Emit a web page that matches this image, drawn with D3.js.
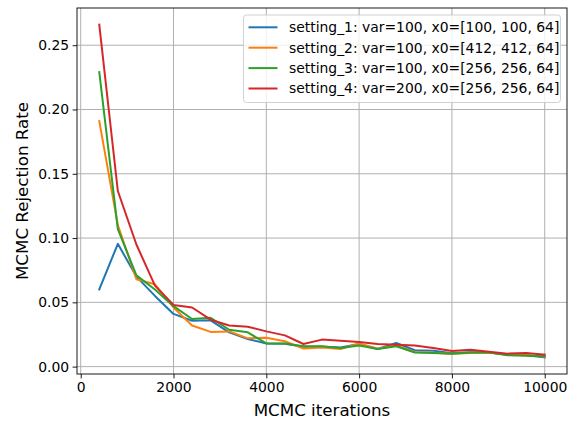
<!DOCTYPE html>
<html lang="en">
  <head>
    <meta charset="UTF-8" />
    <title>MCMC rejection rate</title>
    <script src="https://cdn.jsdelivr.net/npm/d3@7"></script>
    <style>
      body {
        padding: 0;
        margin: 0;
        background: #fff;
      }
      svg text {
        font-family: "DejaVu Sans", sans-serif;
        fill: #000;
      }
    </style>
  </head>
  <body>
    <div id="chart"></div>

    <script>
      // data
      const iterations = [
        400, 800, 1200, 1600, 2000, 2400, 2800, 3200, 3600, 4000, 4400, 4800,
        5200, 5600, 6000, 6400, 6800, 7200, 7600, 8000, 8400, 8800, 9200, 9600,
        10000,
      ];
      const setting1 = [
        0.06, 0.0955, 0.07, 0.055, 0.041, 0.0357, 0.036, 0.0267, 0.0215, 0.018,
        0.0178, 0.0155, 0.0155, 0.0148, 0.0176, 0.0137, 0.0184, 0.0127, 0.0124,
        0.0105, 0.0112, 0.0109, 0.0095, 0.0088, 0.0072,
      ];
      const setting2 = [
        0.191, 0.11, 0.068, 0.064, 0.046, 0.032, 0.027, 0.0274, 0.022, 0.0225,
        0.0197, 0.014, 0.0148, 0.0137, 0.018, 0.014, 0.0165, 0.0114, 0.0108,
        0.0101, 0.0105, 0.0109, 0.0092, 0.009, 0.0078,
      ];
      const setting3 = [
        0.229, 0.107, 0.071, 0.06, 0.047, 0.037, 0.038, 0.0287, 0.0267, 0.018,
        0.018, 0.0158, 0.0158, 0.0145, 0.0165, 0.0137, 0.0158, 0.011, 0.0106,
        0.0101, 0.011, 0.0109, 0.0088, 0.0085, 0.008,
      ];
      const setting4 = [
        0.266, 0.1366, 0.095, 0.063, 0.048, 0.046, 0.0365, 0.032, 0.031,
        0.0274, 0.0243, 0.0176, 0.021, 0.0202, 0.0192, 0.0176, 0.017, 0.0165,
        0.0145, 0.0122, 0.0132, 0.0116, 0.0101, 0.0106, 0.0093,
      ];
      const seriesNames = [
        "setting_1: var=100, x0=[100, 100, 64]",
        "setting_2: var=100, x0=[412, 412, 64]",
        "setting_3: var=100, x0=[256, 256, 64]",
        "setting_4: var=200, x0=[256, 256, 64]",
      ];
      const seriesValues = [setting1, setting2, setting3, setting4];
      const colors = ["#1f77b4", "#ff7f0e", "#2ca02c", "#d62728"];
      const xTicks = [0, 2000, 4000, 6000, 8000, 10000];
      const yTicks = [0, 0.05, 0.1, 0.15, 0.2, 0.25];

      const width = 573;
      const height = 421;
      const margin = { top: 8, right: 6, bottom: 47, left: 77 };

      const svg = d3
        .select("#chart")
        .append("svg")
        .attr("width", width)
        .attr("height", height);

      // matplotlib-like 5% padding around the data
      const xMin = d3.min(iterations),
        xMax = d3.max(iterations);
      const allVals = seriesValues.flat();
      const yMin = d3.min(allVals),
        yMax = d3.max(allVals);
      const xPad = (xMax - xMin) * 0.05,
        yPad = (yMax - yMin) * 0.05;

      const x = d3
        .scaleLinear()
        .domain([xMin - xPad, xMax + xPad])
        .range([margin.left, width - margin.right]);
      const y = d3
        .scaleLinear()
        .domain([yMin - yPad, yMax + yPad])
        .range([height - margin.bottom, margin.top]);

      // grid
      const grid = svg.append("g").attr("stroke", "#b0b0b0").attr("stroke-width", 1);
      xTicks.forEach((t) => {
        grid
          .append("line")
          .attr("x1", x(t))
          .attr("x2", x(t))
          .attr("y1", margin.top)
          .attr("y2", height - margin.bottom);
      });
      yTicks.forEach((t) => {
        grid
          .append("line")
          .attr("x1", margin.left)
          .attr("x2", width - margin.right)
          .attr("y1", y(t))
          .attr("y2", y(t));
      });

      // lines
      const line = d3
        .line()
        .x((d, i) => x(iterations[i]))
        .y((d) => y(d));

      seriesValues.forEach((vals, i) => {
        svg
          .append("path")
          .datum(vals)
          .attr("fill", "none")
          .attr("stroke", colors[i])
          .attr("stroke-width", 2)
          .attr("stroke-linejoin", "round")
          .attr("stroke-linecap", "square")
          .attr("d", line);
      });

      // axes
      const xAxis = svg
        .append("g")
        .attr("transform", `translate(0,${height - margin.bottom})`)
        .call(d3.axisBottom(x).tickValues(xTicks).tickSize(4.4).tickPadding(3.5).tickFormat(d3.format("d")));
      const yAxis = svg
        .append("g")
        .attr("transform", `translate(${margin.left},0)`)
        .call(d3.axisLeft(y).tickValues(yTicks).tickSize(4.4).tickPadding(3.5).tickFormat(d3.format(".2f")));

      [xAxis, yAxis].forEach((ax) => {
        ax.select(".domain").remove();
        ax.selectAll(".tick line").attr("stroke", "#000").attr("stroke-width", 0.9);
        ax.selectAll(".tick text").attr("font-size", 13.9).attr("font-family", "DejaVu Sans");
      });

      // frame
      svg
        .append("rect")
        .attr("x", margin.left)
        .attr("y", margin.top)
        .attr("width", width - margin.left - margin.right)
        .attr("height", height - margin.top - margin.bottom)
        .attr("fill", "none")
        .attr("stroke", "#000")
        .attr("stroke-width", 0.9);

      // axis labels
      svg
        .append("text")
        .attr("x", (margin.left + width - margin.right) / 2)
        .attr("y", 416)
        .attr("text-anchor", "middle")
        .attr("font-size", 16.7)
        .text("MCMC iterations");
      svg
        .append("text")
        .attr("transform", `translate(28,${(margin.top + height - margin.bottom) / 2}) rotate(-90)`)
        .attr("text-anchor", "middle")
        .attr("font-size", 16.7)
        .text("MCMC Rejection Rate");

      // legend
      const legend = svg.append("g").attr("transform", "translate(243.5,15)");
      legend
        .append("rect")
        .attr("width", 317)
        .attr("height", 87.5)
        .attr("rx", 3)
        .attr("fill", "#fff")
        .attr("fill-opacity", 0.8)
        .attr("stroke", "#cccccc")
        .attr("stroke-width", 0.9);
      seriesNames.forEach((name, i) => {
        const row = legend.append("g").attr("transform", `translate(0,${12.3 + i * 20.4})`);
        row
          .append("line")
          .attr("x1", 5)
          .attr("x2", 34)
          .attr("stroke", colors[i])
          .attr("stroke-width", 2);
        row
          .append("text")
          .attr("x", 45.5)
          .attr("dy", "0.35em")
          .attr("font-size", 13.9)
          .text(name);
      });
    </script>
  </body>
</html>
